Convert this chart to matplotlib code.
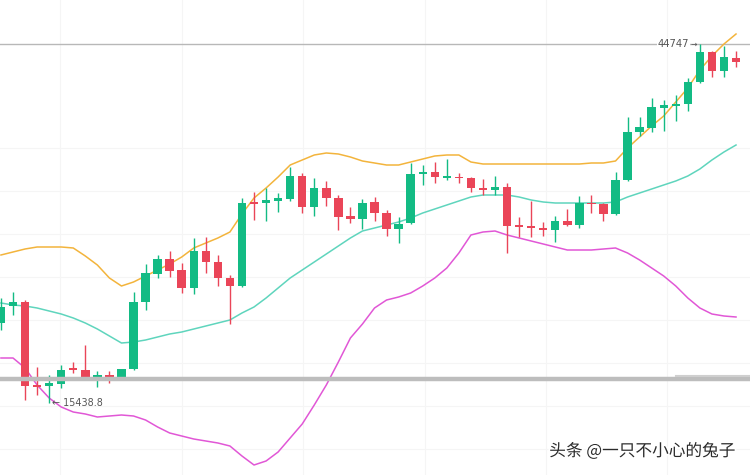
import numpy as np
import matplotlib
matplotlib.use("Agg")
import matplotlib.pyplot as plt
import matplotlib.patheffects as pe

# candle data
opens = [21969, 23357, 23684, 16908, 16826, 16989, 18296, 18132, 17561, 17724,
         17561, 18214, 23684, 25970, 27194, 26296, 24827, 27847, 26949, 25643,
         24990, 31848, 31766, 31929, 32093, 33970, 31440, 32991, 32174, 30705,
         30460, 31848, 30950, 29643, 30133, 34134, 34297, 33807, 33889, 33807,
         32991, 32827, 33072, 29970, 29888, 29725, 29562, 30297, 29970, 31766,
         31684, 30868, 33644, 37563, 37889, 39522, 39685, 39848, 41645, 44094,
         42543, 43604]
highs = [24010, 24500, 23847, 18377, 17724, 18540, 18785, 20173, 18051, 18051,
         18214, 24500, 26786, 27521, 27847, 26868, 28909, 28990, 27521, 25888,
         32174, 32664, 32991, 32582, 34705, 34215, 33807, 33562, 32419, 31440,
         32093, 32256, 31195, 30623, 35032, 34868, 35113, 35358, 34215, 33889,
         33725, 33970, 33399, 30623, 31929, 30215, 30705, 31276, 32338, 32419,
         31766, 34297, 38787, 38787, 40338, 40175, 40583, 41971, 44747, 44175,
         44584, 44175]
lows = [21398, 22622, 15683, 16091, 15438.8, 16663, 17887, 17561, 16744, 17071,
        17561, 18132, 23031, 25643, 25725, 24418, 24337, 26051, 24990, 21888,
        24908, 30378, 30297, 31031, 31929, 30950, 30705, 31521, 29562, 30133,
        29643, 30297, 29072, 28500, 30052, 33236, 33399, 33644, 33399, 32664,
        32419, 32419, 27684, 28990, 28990, 29072, 28582, 29888, 29725, 30950,
        30297, 30786, 33562, 37236, 37563, 37644, 38461, 39277, 41563, 42053,
        42053, 42869]
closes = [23276, 23684, 16826, 16744, 17071, 18132, 18132, 17561, 17724, 17561,
          18214, 23684, 26051, 27194, 26215, 24827, 27847, 26949, 25643, 24990,
          31766, 31684, 32011, 32174, 33970, 31440, 32991, 32174, 30623, 30460,
          31766, 30950, 29643, 30052, 34134, 34297, 33889, 33970, 33807, 32991,
          32827, 33072, 29888, 29807, 29725, 29562, 30297, 29970, 31766, 31684,
          30868, 33644, 37563, 37971, 39604, 39767, 39848, 41645, 44094, 42543,
          43686, 43277]
# 1 = rising candle, 0 = falling
rising = [1, 1, 0, 0, 1, 1, 0, 0, 1, 0, 1, 1, 1, 1, 0, 0, 1, 0, 0, 0,
          1, 0, 1, 1, 1, 0, 1, 0, 0, 0, 1, 0, 0, 1, 1, 1, 0, 1, 0, 0,
          0, 1, 0, 0, 0, 0, 1, 0, 1, 0, 0, 1, 1, 1, 1, 1, 1, 1, 1, 0,
          1, 0]

# band lines
upper = [27521, 27766, 28011, 28174, 28174, 28174, 28093, 27439, 26704, 25643,
         24990, 25316, 25806, 26296, 26786, 27357, 28093, 28500, 28909, 29398,
         30868, 32174, 32991, 33889, 34868, 35277, 35685, 35848, 35766, 35521,
         35195, 35032, 34868, 34868, 35113, 35358, 35603, 35685, 35685, 35113,
         34950, 34950, 34950, 34950, 34950, 34950, 34950, 34950, 34950, 35032,
         35032, 35195, 36256, 37154, 38052, 38869, 40012, 41155, 42624, 43767,
         44747, 45563]
middle = [23602, 23439, 23357, 23194, 22949, 22704, 22378, 21969, 21479, 20908,
          20336, 20418, 20581, 20826, 21071, 21234, 21479, 21724, 21969, 22214,
          22786, 23276, 24010, 24827, 25643, 26296, 26949, 27602, 28256, 28909,
          29480, 29725, 29970, 30215, 30542, 30950, 31276, 31603, 31929, 32256,
          32419, 32419, 32419, 32256, 32011, 31848, 31766, 31766, 31766, 31766,
          31766, 31848, 32256, 32582, 32909, 33236, 33562, 33970, 34542, 35277,
          35930, 36501]
lower = [19112, 19112, 18296, 16908, 15846, 15111, 14703, 14540, 14295, 14377,
         14458, 14377, 14050, 13479, 12989, 12744, 12499, 12336, 12173, 11928,
         11111, 10376, 10703, 11438, 12581, 13724, 15275, 16908, 18785, 20745,
         21888, 23194, 23847, 24092, 24418, 24990, 25643, 26460, 27684, 29154,
         29398, 29480, 29154, 28909, 28664, 28419, 28174, 27929, 27929, 27929,
         28011, 28093, 27684, 27113, 26460, 25806, 24990, 24010, 23194, 22704,
         22541, 22459]

high_label = 44747
low_label = 15438.8
price_line = 17397

GREEN = '#13bb84'
RED = '#ea4558'

fig = plt.figure(figsize=(7.5, 4.75), dpi=100)
ax = fig.add_axes([0, 0, 1, 1])
x = np.arange(len(opens))

# faint grid
for gy in [36256, 32730, 29220, 25710, 22200, 18690, 15180, 11670]:
    ax.axhline(gy, color='#f5f5f5', lw=0.8, zorder=0)
for gx in [4.9, 15.0, 25.1, 35.2, 45.2, 55.3]:
    ax.axvline(gx, color='#f5f5f5', lw=0.8, zorder=0)

# candles
o = np.array(opens, float)
c = np.array(closes, float)
cols = [GREEN if r else RED for r in rising]
ax.vlines(x, lows, highs, colors=cols, lw=1.0, zorder=3)
bottom = np.minimum(o, c)
height = np.maximum(np.abs(c - o), 110)
ax.bar(x, height, bottom=bottom, width=0.7, color=cols, zorder=4)

# band lines
ax.plot(x, upper, color='#f3b43c', lw=1.1, zorder=2)
ax.plot(x, middle, color='#5fd5bd', lw=1.1, zorder=2)
ax.plot(x, lower, color='#e157d6', lw=1.1, zorder=2)

# horizontal price lines
ax.axhline(high_label, color='#b8b8b8', lw=1.0, zorder=1)
ax.axhline(price_line, color='#bdbdbd', lw=3.2, zorder=5)
ax.plot([56.0, 62.5], [price_line + 250, price_line + 250], color='#cfcfcf', lw=1.5, zorder=5)

# labels
ax.text(57.1, high_label, '44747', fontsize=7.2, color='#555555', ha='right', va='center',
        zorder=6, bbox=dict(facecolor='white', edgecolor='none', pad=0.5))
ax.text(57.5, high_label, '\u2192', fontsize=5.5, color='#555555', ha='center', va='center', zorder=6)
ax.text(4.25, low_label, '\u2190 15438.8', fontsize=6.9, color='#555555', ha='left', va='center', zorder=6)

ax.text(0.98, 0.05, '头条 @一只不小心的兔子', transform=ax.transAxes, fontsize=12,
        family=['Noto Sans CJK SC', 'DejaVu Sans'], color='#2b2b2b', ha='right', va='center',
        path_effects=[pe.withStroke(linewidth=2.5, foreground='white')], zorder=7)

ax.set_xlim(-0.08, 62.16)
ax.set_ylim(9560, 48339)
ax.axis('off')

fig.savefig('out.png', dpi=100, facecolor='white')
